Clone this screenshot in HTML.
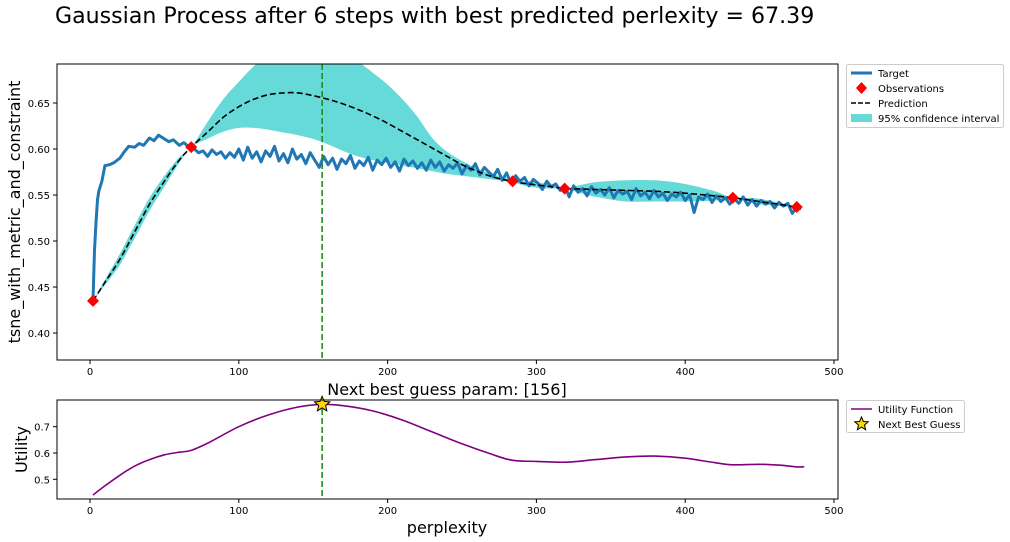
<!DOCTYPE html>
<html><head><meta charset="utf-8"><style>
body{margin:0;background:#fff;}
svg{display:block;font-family:"DejaVu Sans","Liberation Sans",sans-serif;}
</style></head><body>
<svg id="fig" width="1010" height="542" viewBox="0 0 1010 542">
<text x="55" y="23" font-size="22.1" fill="#000">Gaussian Process after 6 steps with best predicted perlexity = 67.39</text>
<g id="main"></g>
<g id="util"></g>
</svg>
<script>
// ---- data ----
const obsX = [2, 68, 284, 319, 432, 475];
const obsY = [0.435, 0.602, 0.565, 0.557, 0.547, 0.537];
const predX = [2,10,20,30,40,50,60,68,80,90,100,110,120,130,140,150,160,170,180,190,200,210,220,230,240,250,260,270,280,284,290,300,310,319,330,340,360,380,400,420,432,450,475];
const predY = [0.435,0.455,0.48,0.51,0.54,0.565,0.588,0.602,0.62,0.635,0.646,0.654,0.659,0.661,0.661,0.658,0.654,0.649,0.643,0.636,0.628,0.619,0.61,0.601,0.592,0.583,0.576,0.57,0.566,0.565,0.563,0.561,0.559,0.557,0.5565,0.556,0.555,0.554,0.552,0.549,0.547,0.543,0.537];
const ciUpper = [0.435,0.458,0.486,0.517,0.547,0.571,0.591,0.602,0.632,0.655,0.673,0.69,0.703,0.712,0.716,0.716,0.712,0.704,0.695,0.683,0.67,0.654,0.635,0.612,0.597,0.587,0.579,0.573,0.568,0.565,0.565,0.564,0.561,0.557,0.561,0.564,0.566,0.566,0.562,0.554,0.547,0.546,0.537];
const ciLower = [0.435,0.452,0.474,0.503,0.533,0.559,0.585,0.602,0.612,0.619,0.623,0.623,0.621,0.618,0.615,0.611,0.605,0.598,0.592,0.588,0.585,0.582,0.579,0.576,0.573,0.571,0.569,0.567,0.565,0.565,0.561,0.558,0.557,0.557,0.552,0.548,0.543,0.543,0.543,0.544,0.547,0.540,0.537];
const targetHeadX = [2,3,4,5,6,8,10,13,16,20,23,26,30,33,36,40,43,46,50,53,56,60,63,66];
const targetHeadY = [0.435,0.49,0.52,0.545,0.555,0.565,0.582,0.583,0.585,0.59,0.597,0.603,0.602,0.606,0.604,0.612,0.609,0.615,0.611,0.608,0.61,0.604,0.607,0.603];
const targetStart = 70, targetStep = 3;
const targetY = [0.600,0.596,0.598,0.592,0.599,0.594,0.597,0.590,0.596,0.591,0.600,0.588,0.602,0.590,0.597,0.586,0.598,0.592,0.603,0.587,0.595,0.585,0.600,0.589,0.594,0.584,0.596,
0.588,0.580,0.592,0.583,0.590,0.578,0.589,0.584,0.593,0.579,0.587,0.582,0.591,0.577,0.588,0.583,0.590,0.580,0.586,0.576,0.589,0.582,0.587,0.579,0.585,0.577,0.588,
0.580,0.586,0.576,0.583,0.579,0.585,0.573,0.582,0.577,0.584,0.572,0.580,0.575,0.570,0.578,0.566,0.574,0.562,0.571,0.565,0.569,0.560,0.567,0.563,0.556,0.565,0.559,
0.562,0.555,0.561,0.548,0.560,0.553,0.557,0.549,0.559,0.552,0.556,0.550,0.558,0.547,0.555,0.551,0.554,0.545,0.557,0.549,0.553,0.546,0.555,0.548,0.552,0.544,0.551,
0.548,0.553,0.544,0.550,0.531,0.548,0.545,0.551,0.542,0.549,0.543,0.547,0.540,0.546,0.541,0.548,0.539,0.545,0.538,0.544,0.540,0.543,0.536,0.542,0.538,0.541,0.530,0.537,0.535];
const utilX = [2,10,20,30,40,50,60,68,80,100,120,140,156,170,190,210,230,250,270,284,300,320,340,360,380,400,420,432,450,465,475,480];
const utilY = [0.44,0.475,0.515,0.55,0.575,0.593,0.603,0.61,0.64,0.7,0.745,0.775,0.785,0.78,0.76,0.725,0.68,0.635,0.595,0.572,0.568,0.565,0.575,0.585,0.588,0.58,0.563,0.555,0.557,0.553,0.547,0.548];
const nextGuess = 156;
const xTicks = [0,100,200,300,400,500];
const yTicksMain = [0.40,0.45,0.50,0.55,0.60,0.65];
const yTicksUtil = [0.5,0.6,0.7];

// ---- layout ----
const NS="http://www.w3.org/2000/svg";
function el(parent,tag,attrs,text){const e=document.createElementNS(NS,tag);for(const k in attrs)e.setAttribute(k,attrs[k]);if(text!=null)e.textContent=text;parent.appendChild(e);return e;}
const L=57,R=838;
const xMin=-22.2,xMax=502.7;
const sx=v=>L+(v-xMin)/(xMax-xMin)*(R-L);
const mT=64,mB=360,myMin=0.3707,myMax=0.6924;
const sy=v=>mB-(v-myMin)/(myMax-myMin)*(mB-mT);
const uT=400,uB=499,uyMin=0.425,uyMax=0.8015;
const uy=v=>uB-(v-uyMin)/(uyMax-uyMin)*(uB-uT);
const pathOf=(xs,ys,fy)=>xs.map((x,i)=>(i?'L':'M')+sx(x).toFixed(1)+','+fy(ys[i]).toFixed(1)).join('');
function smoothPts(pts,start){let d=start?'M'+pts[0][0].toFixed(1)+','+pts[0][1].toFixed(1):'L'+pts[0][0].toFixed(1)+','+pts[0][1].toFixed(1);
 for(let i=0;i<pts.length-1;i++){const p0=pts[Math.max(0,i-1)],p1=pts[i],p2=pts[i+1],p3=pts[Math.min(pts.length-1,i+2)];
  const c1=[p1[0]+(p2[0]-p0[0])/6,p1[1]+(p2[1]-p0[1])/6],c2=[p2[0]-(p3[0]-p1[0])/6,p2[1]-(p3[1]-p1[1])/6];
  d+='C'+c1[0].toFixed(1)+','+c1[1].toFixed(1)+' '+c2[0].toFixed(1)+','+c2[1].toFixed(1)+' '+p2[0].toFixed(1)+','+p2[1].toFixed(1);}
 return d;}
const smoothOf=(xs,ys,fy)=>smoothPts(xs.map((x,i)=>[sx(x),fy(ys[i])]),true);

const main=document.getElementById('main');
el(main,'clipPath',{id:'mclip'});
el(document.getElementById('mclip'),'rect',{x:L,y:mT,width:R-L,height:mB-mT});
const mg=el(main,'g',{'clip-path':'url(#mclip)'});
const upPts=predX.map((x,i)=>[sx(x),sy(ciUpper[i])]);
const loPts=predX.map((x,i)=>[sx(x),sy(ciLower[i])]).reverse();
const band=el(mg,'path',{d:smoothPts(upPts,true)+smoothPts(loPts,false)+'Z',fill:'#66d9d9'});


const tx=targetHeadX.concat(targetY.map((_,i)=>targetStart+targetStep*i));
const ty=targetHeadY.concat(targetY);
const tl=el(mg,'path',{d:pathOf(tx,ty,sy),fill:'none',stroke:'#1f77b4','stroke-width':3,'stroke-linejoin':'round'});


const pl=el(mg,'path',{d:smoothOf(predX,predY,sy),fill:'none',stroke:'#000','stroke-width':1.6,'stroke-dasharray':'6,3'});


const vl=el(mg,'line',{x1:sx(nextGuess),x2:sx(nextGuess),y1:mT,y2:mB,stroke:'#228b22','stroke-width':1.6,'stroke-dasharray':'6,3'});


obsX.forEach((x,i)=>{const cx=sx(x),cy=sy(obsY[i]);
 const d=el(main,'polygon',{points:`${cx},${cy-6} ${cx+6},${cy} ${cx},${cy+6} ${cx-6},${cy}`,fill:'#ff0000'});
 
 });
el(main,'rect',{x:L,y:mT,width:R-L,height:mB-mT,fill:'none',stroke:'#000','stroke-width':1});
yTicksMain.forEach(t=>{const y=sy(t);el(main,'line',{x1:L-4,x2:L,y1:y,y2:y,stroke:'#000'});
 const tt=el(main,'text',{x:L-7,y:y+4,'font-size':10,'text-anchor':'end'},t.toFixed(2));
 
 });
xTicks.forEach(t=>{const x=sx(t);el(main,'line',{x1:x,x2:x,y1:mB,y2:mB+4,stroke:'#000'});
 const tt=el(main,'text',{x:x,y:mB+15,'font-size':10,'text-anchor':'middle'},t);
 
 });
const yt=el(main,'text',{x:0,y:0,'font-size':16,'text-anchor':'middle',transform:`translate(20,${(mT+mB)/2}) rotate(-90)`},'tsne_with_metric_and_constraint');


const lg=el(main,'g',{});


el(lg,'rect',{x:846.5,y:64.5,width:157,height:63,rx:2,fill:'#fff',stroke:'#ccc'});
el(lg,'line',{x1:851,x2:872,y1:73,y2:73,stroke:'#1f77b4','stroke-width':3});
el(lg,'text',{x:878,y:77,'font-size':10},'Target');
el(lg,'polygon',{points:'861.5,82 867,88 861.5,94 856,88',fill:'#ff0000'});
el(lg,'text',{x:878,y:92,'font-size':10},'Observations');
el(lg,'line',{x1:851,x2:872,y1:103,y2:103,stroke:'#000','stroke-width':1.6,'stroke-dasharray':'5,2'});
el(lg,'text',{x:878,y:107,'font-size':10},'Prediction');
el(lg,'rect',{x:851,y:114,width:21,height:8,fill:'#66d9d9'});
el(lg,'text',{x:878,y:122,'font-size':10},'95% confidence interval');

const ug=document.getElementById('util');
const ut=el(ug,'text',{x:447,y:395,'font-size':16,'text-anchor':'middle'},'Next best guess param: [156]');


const ul=el(ug,'path',{d:smoothOf(utilX,utilY,uy),fill:'none',stroke:'#800080','stroke-width':1.6});


const uv=el(ug,'line',{x1:sx(nextGuess),x2:sx(nextGuess),y1:uT,y2:uB,stroke:'#228b22','stroke-width':1.6,'stroke-dasharray':'6,3'});


function star(cx,cy,r){let p=[];for(let i=0;i<10;i++){const a=-Math.PI/2+i*Math.PI/5,rr=i%2?r*0.45:r;p.push((cx+rr*Math.cos(a)).toFixed(1)+','+(cy+rr*Math.sin(a)).toFixed(1));}return p.join(' ');}
const st=el(ug,'polygon',{points:star(sx(nextGuess),uy(0.785),8),fill:'#ffd700',stroke:'#000','stroke-width':1});


el(ug,'rect',{x:L,y:uT,width:R-L,height:uB-uT,fill:'none',stroke:'#000'});
yTicksUtil.forEach(t=>{const y=uy(t);el(ug,'line',{x1:L-4,x2:L,y1:y,y2:y,stroke:'#000'});
 const tt=el(ug,'text',{x:L-7,y:y+4,'font-size':10,'text-anchor':'end'},t.toFixed(1));
 
 });
xTicks.forEach(t=>{const x=sx(t);el(ug,'line',{x1:x,x2:x,y1:uB,y2:uB+4,stroke:'#000'});
 const tt=el(ug,'text',{x:x,y:uB+15,'font-size':10,'text-anchor':'middle'},t);
 
 });
const xa=el(ug,'text',{x:447,y:533,'font-size':16,'text-anchor':'middle'},'perplexity');


const uya=el(ug,'text',{x:0,y:0,'font-size':16,'text-anchor':'middle',transform:`translate(27,${(uT+uB)/2}) rotate(-90)`},'Utility');


const ulg=el(ug,'g',{});


el(ulg,'rect',{x:846.5,y:400.5,width:118,height:32,rx:2,fill:'#fff',stroke:'#ccc'});
el(ulg,'line',{x1:851,x2:872,y1:409,y2:409,stroke:'#800080','stroke-width':1.6});
el(ulg,'text',{x:878,y:413,'font-size':10},'Utility Function');
el(ulg,'polygon',{points:star(861.5,424,7),fill:'#ffd700',stroke:'#000'});
el(ulg,'text',{x:878,y:428,'font-size':10},'Next Best Guess');
</script>
</body></html>
